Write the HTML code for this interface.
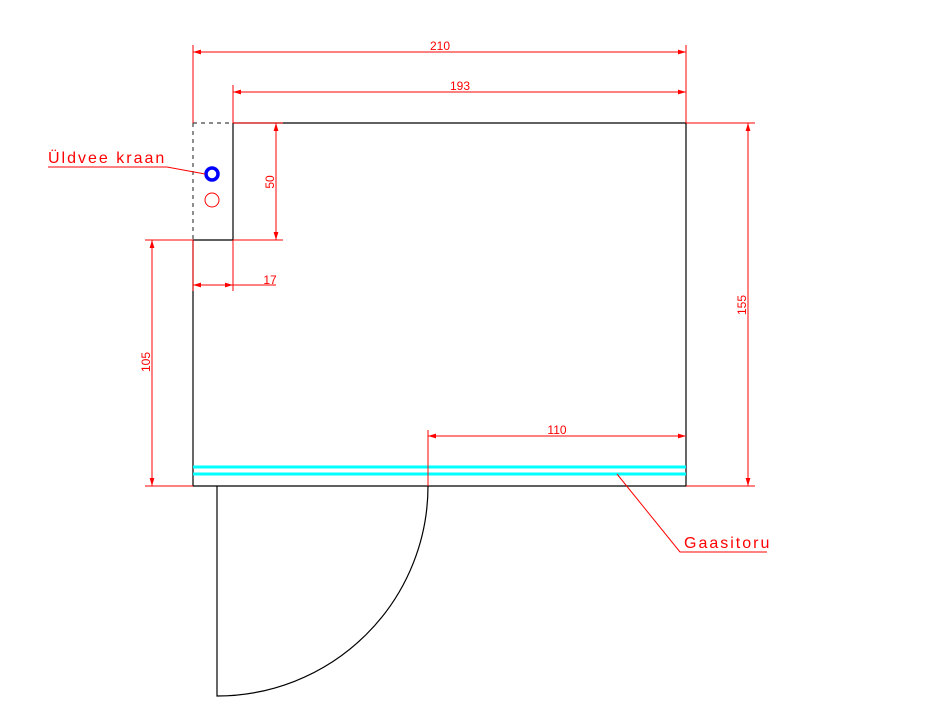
<!DOCTYPE html>
<html><head><meta charset="utf-8"><style>
html,body{margin:0;padding:0;background:#fff;}
svg{display:block;}
text{font-family:"Liberation Sans","DejaVu Sans",sans-serif;fill:#ff0000;}
</style></head><body>
<svg width="925" height="718" viewBox="0 0 925 718" xmlns="http://www.w3.org/2000/svg">
<defs>
<marker id="a" viewBox="0 0 10 6" refX="10" refY="3" markerWidth="8" markerHeight="5" orient="auto-start-reverse" markerUnits="userSpaceOnUse">
<path d="M0,0 L10,3 L0,6 z" fill="#ff0000"/>
</marker>
</defs>
<g stroke="#000" stroke-width="1.2" fill="none">
<polyline points="233,123 686,123 686,486 193,486 193,240 233,240 233,123"/>
<path d="M217,486 L217,696 A211,210 0 0 0 428,486"/>
</g>
<g stroke="#444" stroke-width="1.2" fill="none" stroke-dasharray="4,4">
<line x1="193" y1="123" x2="233" y2="123"/>
<line x1="193" y1="123" x2="193" y2="240"/>
</g>
<g stroke="#00ffff" stroke-width="3">
<line x1="193" y1="467" x2="686" y2="467"/>
<line x1="193" y1="474" x2="686" y2="474"/>
</g>
<circle cx="212" cy="174" r="6" fill="none" stroke="#0000ff" stroke-width="3.5"/>
<circle cx="212" cy="200" r="7" fill="none" stroke="#ff0000" stroke-width="1"/>
<g stroke="#ff0000" stroke-width="1" fill="none">
<line x1="193" y1="45" x2="193" y2="123"/>
<line x1="686" y1="45" x2="686" y2="123"/>
<line x1="193" y1="52" x2="686" y2="52" marker-start="url(#a)" marker-end="url(#a)"/>
<line x1="233" y1="85" x2="233" y2="123"/>
<line x1="233" y1="92" x2="686" y2="92" marker-start="url(#a)" marker-end="url(#a)"/>
<line x1="233" y1="123" x2="283" y2="123"/>
<line x1="233" y1="240" x2="283" y2="240"/>
<line x1="276" y1="123" x2="276" y2="240" marker-start="url(#a)" marker-end="url(#a)"/>
<line x1="193" y1="240" x2="193" y2="291"/>
<line x1="233" y1="240" x2="233" y2="291"/>
<line x1="193" y1="285" x2="233" y2="285" marker-start="url(#a)" marker-end="url(#a)"/>
<line x1="233" y1="285" x2="276" y2="285"/>
<line x1="145" y1="240" x2="193" y2="240"/>
<line x1="145" y1="486" x2="193" y2="486"/>
<line x1="152" y1="240" x2="152" y2="486" marker-start="url(#a)" marker-end="url(#a)"/>
<line x1="686" y1="123" x2="755" y2="123"/>
<line x1="686" y1="486" x2="755" y2="486"/>
<line x1="748" y1="123" x2="748" y2="486" marker-start="url(#a)" marker-end="url(#a)"/>
<line x1="428" y1="430" x2="428" y2="486"/>
<line x1="428" y1="436" x2="686" y2="436" marker-start="url(#a)" marker-end="url(#a)"/>
<polyline points="48,167 167,167 205,174"/>
<polyline points="617,474 680,552 767,552"/>
</g>
<g font-size="12">
<text x="440" y="50" text-anchor="middle">210</text>
<text x="460" y="90" text-anchor="middle">193</text>
<text x="270" y="284" text-anchor="middle">17</text>
<text x="557" y="434" text-anchor="middle">110</text>
<text transform="translate(274,182) rotate(-90)" text-anchor="middle">50</text>
<text transform="translate(150,362) rotate(-90)" text-anchor="middle">105</text>
<text transform="translate(746,305) rotate(-90)" text-anchor="middle">155</text>
</g>
<text x="48" y="163" font-size="16" letter-spacing="2">Üldvee kraan</text>
<text x="684" y="548" font-size="16" letter-spacing="2">Gaasitoru</text>
</svg>
</body></html>
